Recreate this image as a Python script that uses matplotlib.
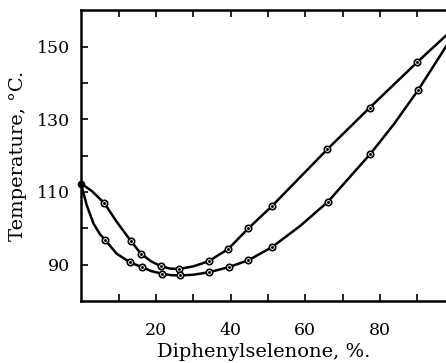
import matplotlib
matplotlib.use("Agg")
import matplotlib.pyplot as plt

# upper curve (marked points)
upper_x = [6.2, 13.3, 16.0, 21.5, 26.2, 34.1, 39.4, 44.8, 51.0, 65.9, 77.3, 90.0]
upper_y = [106.9, 96.5, 93.0, 89.5, 88.8, 90.9, 94.3, 100.0, 106.0, 121.7, 133.2, 145.7]
# lower curve (marked points)
lower_x = [6.4, 13.1, 16.3, 21.6, 26.5, 34.3, 39.5, 44.8, 51.1, 66.1, 77.4, 90.3]
lower_y = [96.8, 90.6, 89.3, 87.5, 87.0, 87.9, 89.3, 91.2, 94.8, 107.3, 120.4, 138.1]

upper_trace_x = [0.0, 2.9, 9.5, 18.7, 23.8, 30.0, 97.7]
upper_trace_y = [112.3, 110.2, 101.8, 90.9, 88.9, 89.5, 153.0]
lower_trace_x = [0.0, 1.5, 3.3, 5.0, 9.5, 18.8, 24.0, 30.0, 58.6, 71.6, 83.8, 97.7]
lower_trace_y = [112.0, 106.3, 101.3, 98.4, 93.0, 88.2, 87.1, 87.2, 100.6, 113.7, 128.7, 150.0]

start_x = [0.0]
start_y = [112.3]

plt.rcParams["font.family"] = "DejaVu Serif"

fig = plt.figure(figsize=(4.46, 3.63), dpi=100)
ax = fig.add_axes([0.182, 0.171, 0.818, 0.801])


def trace(px, py, tx, ty):
    pts = sorted(zip(list(px) + list(tx), list(py) + list(ty)))
    return [p[0] for p in pts], [p[1] for p in pts]


for px, py, tx, ty in [(upper_x, upper_y, upper_trace_x, upper_trace_y),
                       (lower_x, lower_y, lower_trace_x, lower_trace_y)]:
    lx, ly = trace(px, py, tx, ty)
    ax.plot(lx, ly, color="black", lw=1.8, zorder=2, solid_joinstyle="round")
    ax.plot(px, py, linestyle="none", marker="o", ms=4.6, mfc="white",
            mec="black", mew=1.2, zorder=3)
    ax.plot(px, py, linestyle="none", marker="o", ms=1.1, color="black", zorder=4)

ax.plot(start_x, start_y, linestyle="none", marker="o", ms=4.5, color="black",
        zorder=4, clip_on=False)

ax.set_xlim(0, 97.7)
ax.set_ylim(80, 160)

ax.set_xticks([20, 40, 60, 80])
ax.set_xticks([10, 30, 50, 70, 90], minor=True)
ax.set_yticks([90, 110, 130, 150])
ax.set_yticks([100, 120, 140], minor=True)

ax.tick_params(which="both", direction="in", length=5, width=1.2,
               top=True, bottom=True, left=True, right=False,
               labelsize=12.5, pad=8)
ax.tick_params(axis="x", pad=15)

ax.spines["right"].set_visible(False)
for s in ["left", "bottom", "top"]:
    ax.spines[s].set_linewidth(1.8)

ax.set_xlabel("Diphenylselenone, %.", fontsize=14, labelpad=3)
ax.set_ylabel("Temperature, °C.", fontsize=14, labelpad=7)

fig.savefig("out.png", dpi=100)
